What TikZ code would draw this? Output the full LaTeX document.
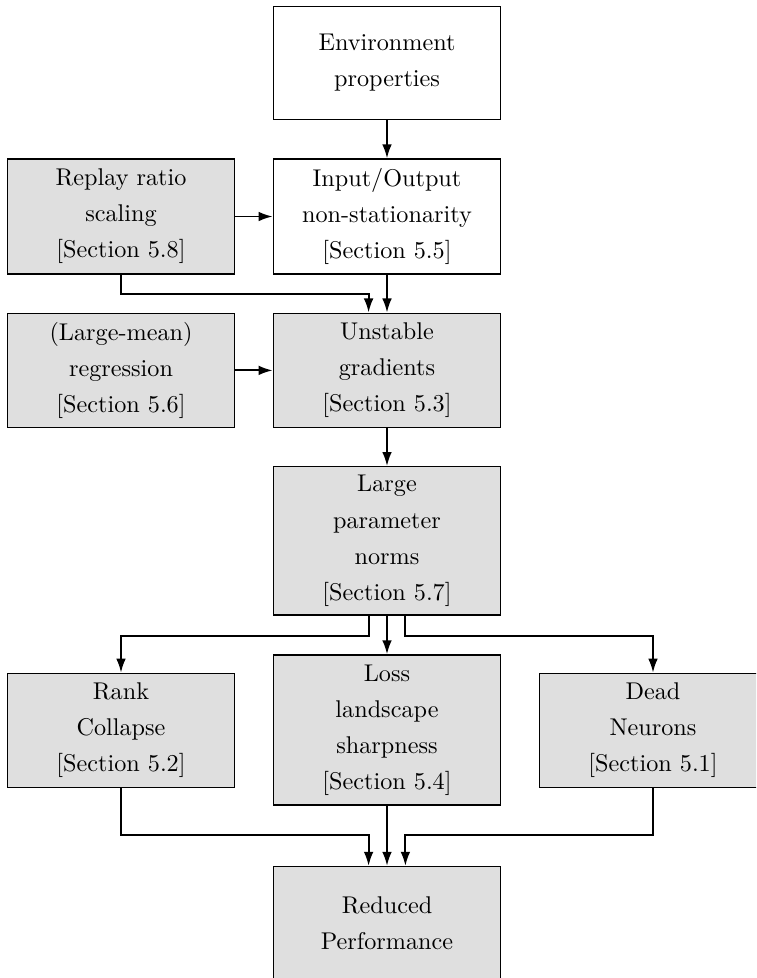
\documentclass[tikz,border=0pt]{standalone}
\usetikzlibrary{arrows.meta}
\begin{document}
\begin{tikzpicture}[x=0.413pt,y=-0.413pt,
  box/.style={draw=black, line width=0.5pt, minimum width=93.96pt, align=center, inner sep=2pt, font=\fontsize{10}{14.9}\selectfont},
  greybox/.style={box, fill=gray!25},
  whitebox/.style={box, fill=white},
  conn/.style={line width=0.8pt, -{Latex[length=5.8pt,width=4pt]}}]
\useasboundingbox (0,0) rectangle (756,978);
\clip (0,0) rectangle (756,978);
\node[whitebox, minimum height=46.5pt] (env) at (387,63) {Environment\\properties};
\node[whitebox, minimum height=47.5pt] (io) at (387,216.5) {Input/Output\\non-stationarity\\{[Section 5.5]}};
\node[greybox, minimum height=47.5pt] (replay) at (121,216.5) {Replay ratio\\scaling\\{[Section 5.8]}};
\node[greybox, minimum height=47.3pt] (unstable) at (387,370.4) {Unstable\\gradients\\{[Section 5.3]}};
\node[greybox, minimum height=47.3pt] (largemean) at (121,370.4) {(Large-mean)\\regression\\{[Section 5.6]}};
\node[greybox, minimum height=61.25pt] (lp) at (387,540.8) {Large\\parameter\\norms\\{[Section 5.7]}};
\node[greybox, minimum height=47.1pt] (rank) at (121,730.3) {Rank\\Collapse\\{[Section 5.2]}};
\node[greybox, minimum height=62pt] (loss) at (387,730) {Loss\\landscape\\sharpness\\{[Section 5.4]}};
\node[greybox, minimum height=47.1pt] (dead) at (653,730.3) {Dead\\Neurons\\{[Section 5.1]}};
\node[greybox, minimum height=46.7pt] (red) at (387,923) {Reduced\\Performance};

\draw[conn] (env.south) -- (io.north);
\draw[conn] (replay.east) -- (io.west);
\draw[conn] (io.south) -- (unstable.north);
\draw[conn] (replay.south) -- ++(0,19.3) -| ([xshift=-7.6pt]unstable.north);
\draw[conn] (largemean.east) -- (unstable.west);
\draw[conn] (unstable.south) -- (lp.north);
\draw[conn] ([xshift=-7.6pt]lp.south) -- ++(0,20.5) -| (rank.north);
\draw[conn] (lp.south) -- (loss.north);
\draw[conn] ([xshift=7.6pt]lp.south) -- ++(0,20.5) -| (dead.north);
\draw[conn] (rank.south) -- ++(0,46.7) -| ([xshift=-7.6pt]red.north);
\draw[conn] (loss.south) -- (red.north);
\draw[conn] (dead.south) -- ++(0,46.7) -| ([xshift=7.6pt]red.north);
\end{tikzpicture}
\end{document}
